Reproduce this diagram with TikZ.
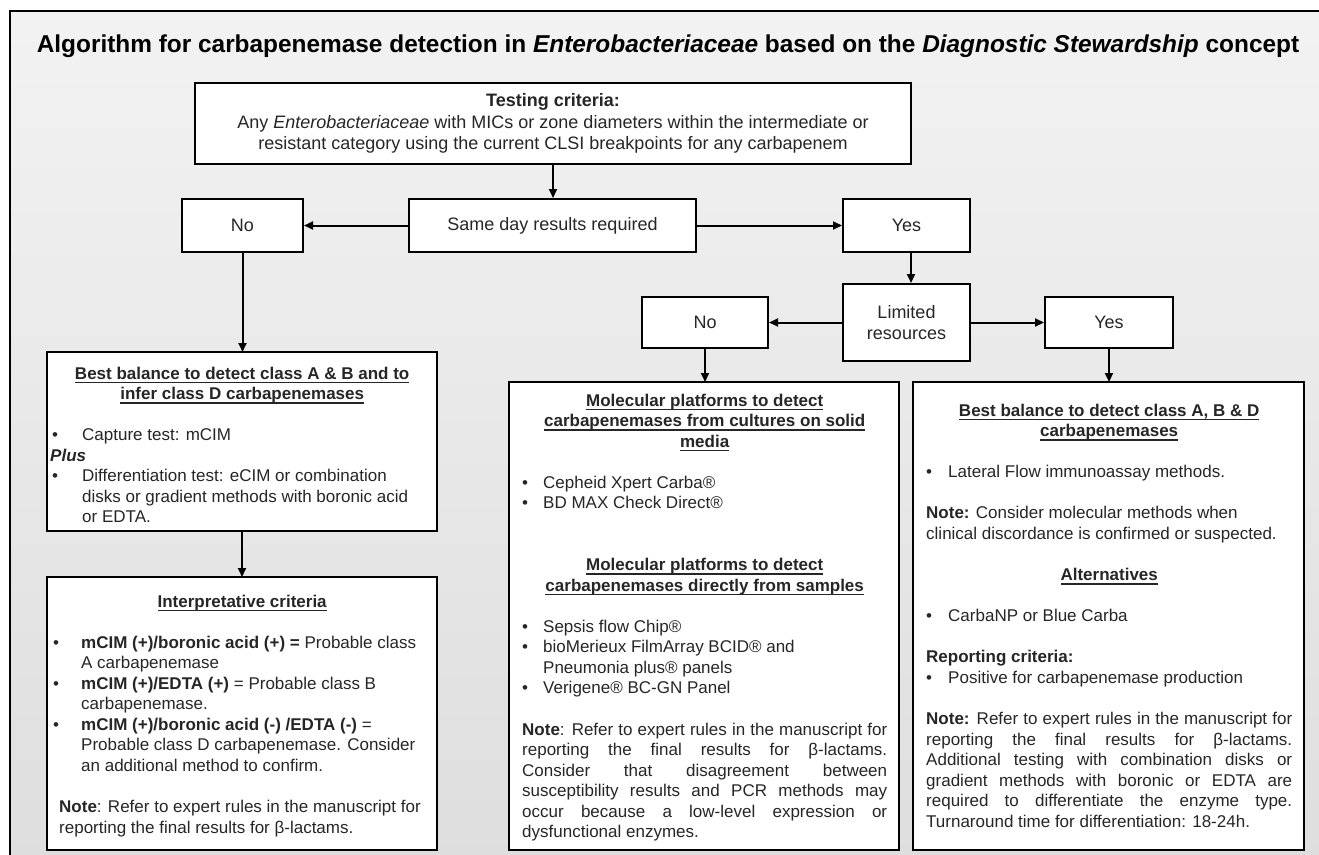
\documentclass[tikz,border=0pt]{standalone}
\usepackage{fontspec}
\setmainfont{Liberation Sans}
\usetikzlibrary{arrows.meta}

% underline, bullet in a box of given width, underlined heading, justified line
\newsavebox{\ulbox}
\newcommand{\uln}[1]{\sbox{\ulbox}{#1}\rlap{\usebox{\ulbox}}\rule[-4.1pt]{\wd\ulbox}{1.3pt}}
\newcommand{\blt}[1]{\makebox[#1][l]{\textbullet}}
\newcommand{\hd}[1]{\makebox[\linewidth]{\uln{\textbf{#1}}}}
\newcommand{\jl}[1]{\makebox[\linewidth][s]{#1}}

\tikzset{
  decision/.style={draw, line width=2pt, fill=white, align=center, inner sep=0pt,
    text=black!85, font=\fontsize{18}{21.6}\selectfont},
  panel/.style={draw, line width=2pt, fill=white, inner sep=0pt, outer sep=0pt,
    anchor=north west},
  paneltext/.style={anchor=base west, inner sep=0pt, text=black!85},
  flow/.style={line width=2pt, -{Triangle[length=9pt,width=8pt]}},
}

\begin{document}
\begin{tikzpicture}[x=1pt, y=-1pt]
    \useasboundingbox (0,0) rectangle (1319,854);

    % background frame
    \draw [line width=2.5pt, top color=black!5, middle color=black!16, bottom color=black!13]
        (10,11) rectangle (1330,870);

    \node (title) at (668,46) {\fontsize{24.4}{28}\selectfont\bfseries Algorithm for carbapenemase detection in \textit{Enterobacteriaceae} based on the \textit{Diagnostic Stewardship} concept};

    % decisions
    \node [decision, minimum width=716pt, minimum height=81pt] (testing) at (553,123.5)
        {\textbf{Testing criteria:}\\Any \textit{Enterobacteriaceae} with MICs or zone diameters within the intermediate or\\resistant category using the current CLSI breakpoints for any carbapenem};
    \node [decision, minimum width=287pt, minimum height=53pt] (sameday) at (552.5,225.5) {Same day results required};
    \node [decision, minimum width=121pt, minimum height=53pt] (noday) at (242.5,225.5) {No};
    \node [decision, minimum width=127pt, minimum height=53pt] (yesday) at (906.5,225.5) {Yes};
    \node [decision, minimum width=127pt, minimum height=77pt] (limited) at (906.5,322.5) {Limited\\resources};
    \node [decision, minimum width=126pt, minimum height=51pt] (nores) at (705,322.5) {No};
    \node [decision, minimum width=128pt, minimum height=51pt] (yesres) at (1109,322.5) {Yes};

    % panels
    \node [panel, minimum width=390pt, minimum height=179pt] (bestab) at (47,352) {};
    \node [panel, minimum width=390pt, minimum height=273pt] (interp) at (47,577) {};
    \node [panel, minimum width=390pt, minimum height=468pt] (molec) at (509,382) {};
    \node [panel, minimum width=391pt, minimum height=468pt] (bestabd) at (913,382) {};

    \node [paneltext] (bestabtxt) at ([xshift=3pt,yshift=-27pt]bestab.north west)
        {\parbox[t]{384pt}{\fontsize{17}{20.57}\selectfont
        \hd{Best balance to detect class A \& B and to}\\
        \hd{infer class D carbapenemases}\\
        \mbox{}\\
        \hspace*{2pt}\blt{30pt}Capture test: mCIM\\
        \textbf{\textit{Plus}}\\
        \hspace*{2pt}\blt{30pt}Differentiation test: eCIM or combination\\
        \hspace*{32pt}disks or gradient methods with boronic acid\\
        \hspace*{32pt}or EDTA.}};

    \node [paneltext] (interptxt) at ([xshift=3pt,yshift=-30pt]interp.north west)
        {\parbox[t]{384pt}{\fontsize{17}{20.57}\selectfont
        \hd{Interpretative criteria}\\
        \mbox{}\\
        \hspace*{3pt}\blt{28pt}\textbf{mCIM (+)/boronic acid (+) =} Probable class\\
        \hspace*{31pt}A carbapenemase\\
        \hspace*{3pt}\blt{28pt}\textbf{mCIM (+)/EDTA (+)} = Probable class B\\
        \hspace*{31pt}carbapenemase.\\
        \hspace*{3pt}\blt{28pt}\textbf{mCIM (+)/boronic acid (-) /EDTA (-)} =\\
        \hspace*{31pt}Probable class D carbapenemase. Consider\\
        \hspace*{31pt}an additional method to confirm.\\
        \mbox{}\\
        \hspace*{9pt}\textbf{Note}: Refer to expert rules in the manuscript for\\
        \hspace*{9pt}reporting the final results for β-lactams.}};

    \node [paneltext] (molectxt) at ([xshift=13pt,yshift=-24pt]molec.north west)
        {\parbox[t]{365pt}{\fontsize{17}{20.57}\selectfont
        \hd{Molecular platforms to detect}\\
        \hd{carbapenemases from cultures on solid}\\
        \hd{media}\\
        \mbox{}\\
        \blt{21pt}Cepheid Xpert Carba®\\
        \blt{21pt}BD MAX Check Direct®\\
        \mbox{}\\
        \mbox{}\\
        \hd{Molecular platforms to detect}\\
        \hd{carbapenemases directly from samples}\\
        \mbox{}\\
        \blt{21pt}Sepsis flow Chip®\\
        \blt{21pt}bioMerieux FilmArray BCID® and\\
        \hspace*{21pt}Pneumonia plus® panels\\
        \blt{21pt}Verigene® BC-GN Panel\\
        \mbox{}\\
        \jl{\textbf{Note}: Refer to expert rules in the manuscript for}\\
        \jl{reporting the final results for β-lactams.}\\
        \jl{Consider that disagreement between}\\
        \jl{susceptibility results and PCR methods may}\\
        \jl{occur because a low-level expression or}\\
        dysfunctional enzymes.}};

    \node [paneltext] (bestabdtxt) at ([xshift=13pt,yshift=-34pt]bestabd.north west)
        {\parbox[t]{366pt}{\fontsize{17}{20.57}\selectfont
        \hd{Best balance to detect class A, B \& D}\\
        \hd{carbapenemases}\\
        \mbox{}\\
        \blt{22pt}Lateral Flow immunoassay methods.\\
        \mbox{}\\
        \textbf{Note:} Consider molecular methods when\\
        clinical discordance is confirmed or suspected.\\
        \mbox{}\\
        \hd{Alternatives}\\
        \mbox{}\\
        \blt{22pt}CarbaNP or Blue Carba\\
        \mbox{}\\
        \textbf{Reporting criteria:}\\
        \blt{22pt}Positive for carbapenemase production\\
        \mbox{}\\
        \jl{\textbf{Note:} Refer to expert rules in the manuscript for}\\
        \jl{reporting the final results for β-lactams.}\\
        \jl{Additional testing with combination disks or}\\
        \jl{gradient methods with boronic or EDTA are}\\
        \jl{required to differentiate the enzyme type.}\\
        Turnaround time for differentiation: 18-24h.}};

    % connectors
    \draw [flow] (testing.south) -- (testing.south |- sameday.north);
    \draw [flow] (sameday) -- (noday);
    \draw [flow] (sameday) -- (yesday);
    \draw [flow] ([xshift=4.5pt]yesday.south) -- ([xshift=4.5pt]limited.north);
    \draw [flow] (limited) -- (nores);
    \draw [flow] (limited) -- (yesres);
    \draw [flow] (noday.south) -- (noday.south |- bestab.north);
    \draw [flow] (bestab.south) -- (interp.north);
    \draw [flow] (nores.south) -- (nores.south |- molec.north);
    \draw [flow] (yesres.south) -- (yesres.south |- bestabd.north);
\end{tikzpicture}
\end{document}
